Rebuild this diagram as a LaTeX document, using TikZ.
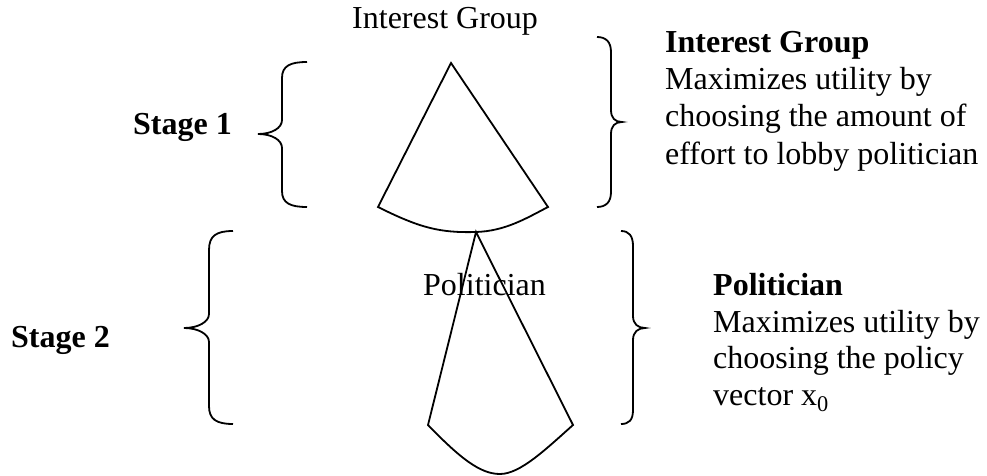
\documentclass[tikz,border=0pt]{standalone}
\usepackage{fontspec}
\setmainfont{Liberation Serif}
\begin{document}
\begin{tikzpicture}[x=1pt,y=-1pt,
  txt/.style={anchor=base west,inner sep=0pt,font=\fontsize{32}{36.8}\selectfont},
  btxt/.style={txt,font=\fontsize{32}{36.8}\selectfont\bfseries},
  shapeline/.style={draw=black,line width=1.8pt,line join=miter},
  braceline/.style={draw=black,line width=1.8pt}]
\path[use as bounding box] (0,0) rectangle (987,476);
% labels
\node[txt] (iglabel) at (352,29) {Interest Group};
\node[txt] (pollabel) at (423,295) {Politician};
\node[btxt] (s1) at (133,135) {Stage 1};
\node[btxt] (s2) at (11,347) {Stage 2};
% right block 1
\node[btxt] (r1a) at (665,53) {Interest Group};
\node[txt] (r1b) at (665,90) {Maximizes utility by};
\node[txt] (r1c) at (665,127) {choosing the amount of};
\node[txt] (r1d) at (665,164) {effort to lobby politician};
% right block 2
\node[btxt] (r2a) at (713,295) {Politician};
\node[txt] (r2b) at (713,332) {Maximizes utility by};
\node[txt] (r2c) at (713,368) {choosing the policy};
\node[txt] (r2d) at (713,405) {vector x\textsubscript{0}};
% fan 1
\coordinate (f1apex) at (451,63);
\coordinate (f1l) at (378,207);
\coordinate (f1r) at (548,207);
\coordinate (f1b) at (476,232);
\draw[shapeline] (f1apex) -- (f1r) .. controls (525,219) and (505,231) .. (f1b)
  .. controls (440,233) and (420,228) .. (f1l) -- cycle;
% fan 2
\coordinate (f2l) at (428,425);
\coordinate (f2r) at (573,425);
\coordinate (f2b) at (500,474);
\draw[shapeline] (f1b) -- (f2r) .. controls (545,450) and (520,474) .. (f2b)
  .. controls (480,474) and (460,458) .. (f2l) -- cycle;
% braces
\draw[braceline] (307,62) .. controls (290,62) and (282,66) .. (282,78) -- (282,120)
  .. controls (282,128) and (272,134) .. (258,134) .. controls (272,134) and (282,140) .. (282,148)
  -- (282,191) .. controls (282,203) and (290,207) .. (307,207);
\draw[braceline] (597,37) .. controls (606,37) and (611,42) .. (611,52) -- (611,110)
  .. controls (611,118) and (615,122) .. (622,122) .. controls (615,122) and (611,126) .. (611,134)
  -- (611,192) .. controls (611,202) and (606,207) .. (597,207);
\draw[braceline] (233,231) .. controls (216,231) and (209,236) .. (209,250) -- (209,314)
  .. controls (209,322) and (198,328) .. (184,328) .. controls (198,328) and (209,334) .. (209,342)
  -- (209,406) .. controls (209,419) and (216,424) .. (233,424);
\draw[braceline] (621,231) .. controls (629,231) and (633,236) .. (633,246) -- (633,316)
  .. controls (633,324) and (638,328) .. (645,328) .. controls (638,328) and (633,332) .. (633,340)
  -- (633,410) .. controls (633,420) and (629,424) .. (621,424);
\end{tikzpicture}
\end{document}
